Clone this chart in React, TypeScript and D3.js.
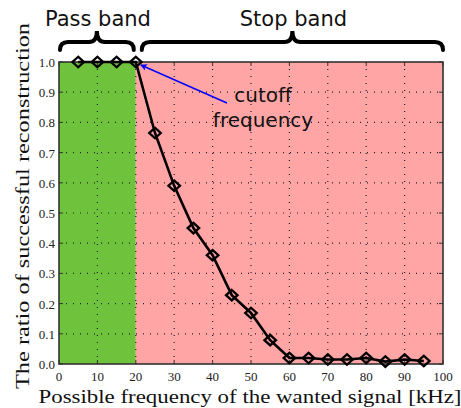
import React, { useEffect, useRef } from "react"
import * as d3 from "d3"

const freqs = [5, 10, 15, 20, 25, 30, 35, 40, 45, 50, 55, 60, 65, 70, 75, 80, 85, 90, 95]
const ratios = [1.0, 1.0, 1.0, 1.0, 0.765, 0.59, 0.45, 0.36, 0.228, 0.169, 0.079, 0.02, 0.02, 0.015, 0.015, 0.02, 0.008, 0.015, 0.01]
const xTicks = [0, 10, 20, 30, 40, 50, 60, 70, 80, 90, 100]
const yTicks = [0, 0.1, 0.2, 0.3, 0.4, 0.5, 0.6, 0.7, 0.8, 0.9, 1.0]
const bands = [
    { name: "Pass band", from: 0, to: 20, color: "#6fc23b" },
    { name: "Stop band", from: 20, to: 100, color: "#ffa5a5" },
]
const cutoff = 20

const W = 461, H = 408
const margin = { left: 59, right: 18, top: 62, bottom: 44 }
const serif = "'Liberation Serif', 'DejaVu Serif', serif"
const sans = "'DejaVu Sans', sans-serif"

function bracePath(x1: number, x2: number, y: number) {
    // curly brace opening downward, tip pointing up
    const mid = (x1 + x2) / 2
    const r = 8
    const yf = y - 8, yt = y - 19
    return `M${x1},${y} Q${x1},${yf} ${x1 + r},${yf} L${mid - r},${yf} Q${mid},${yf} ${mid},${yt} ` +
        `Q${mid},${yf} ${mid + r},${yf} L${x2 - r},${yf} Q${x2},${yf} ${x2},${y}`
}

export default function App() {
    const gRef = useRef<SVGGElement>(null)

    useEffect(() => {
        if (!gRef.current) return
        const g = d3.select(gRef.current)
        g.selectAll("*").remove()

        const x = d3.scaleLinear().domain([0, 100]).range([margin.left, W - margin.right])
        const y = d3.scaleLinear().domain([0, 1]).range([H - margin.bottom, margin.top])
        const [x0, x1] = x.range()
        const [y0, y1] = y.range()

        // band backgrounds
        g.selectAll("rect.band")
            .data(bands)
            .join("rect")
            .attr("x", d => x(d.from))
            .attr("width", d => x(d.to) - x(d.from))
            .attr("y", y1)
            .attr("height", y0 - y1)
            .attr("fill", d => d.color)

        // dotted grid
        const grid = g.append("g").attr("stroke", "#222").attr("stroke-width", 1.2).attr("stroke-dasharray", "1,6")
        grid.selectAll("line.vx")
            .data(xTicks.slice(1, -1))
            .join("line")
            .attr("x1", d => x(d)).attr("x2", d => x(d))
            .attr("y1", y0).attr("y2", y1)
        grid.selectAll("line.hy")
            .data(yTicks.slice(1, -1))
            .join("line")
            .attr("class", "hy")
            .attr("x1", x0).attr("x2", x1)
            .attr("y1", d => y(d)).attr("y2", d => y(d))

        // inward ticks on all sides
        const ticks = g.append("g").attr("stroke", "#333").attr("stroke-width", 1)
        xTicks.forEach(t => {
            ticks.append("line").attr("x1", x(t)).attr("x2", x(t)).attr("y1", y0).attr("y2", y0 - 4)
            ticks.append("line").attr("x1", x(t)).attr("x2", x(t)).attr("y1", y1).attr("y2", y1 + 4)
        })
        yTicks.forEach(t => {
            ticks.append("line").attr("x1", x0).attr("x2", x0 + 4).attr("y1", y(t)).attr("y2", y(t))
            ticks.append("line").attr("x1", x1).attr("x2", x1 - 4).attr("y1", y(t)).attr("y2", y(t))
        })

        // frame
        g.append("rect")
            .attr("x", x0).attr("y", y1)
            .attr("width", x1 - x0).attr("height", y0 - y1)
            .attr("fill", "none").attr("stroke", "#333").attr("stroke-width", 1.6)

        // tick labels
        g.append("g")
            .style("font-family", serif).style("font-size", "13px").attr("fill", "#222")
            .attr("text-anchor", "middle")
            .selectAll("text")
            .data(xTicks)
            .join("text")
            .attr("x", d => x(d)).attr("y", y0 + 17)
            .text(d => d)
        g.append("g")
            .style("font-family", serif).style("font-size", "13px").attr("fill", "#222")
            .attr("text-anchor", "end")
            .selectAll("text")
            .data(yTicks)
            .join("text")
            .attr("x", x0 - 4).attr("y", d => y(d) + 5)
            .text(d => d3.format(".1f")(d))

        // axis titles
        g.append("text")
            .attr("x", (x0 + x1) / 2 - 1).attr("y", H - 5)
            .attr("text-anchor", "middle")
            .style("font-family", serif).style("font-size", "19px").attr("fill", "#111")
            .attr("textLength", 423).attr("lengthAdjust", "spacingAndGlyphs")
            .text("Possible frequency of the wanted signal [kHz]")
        g.append("text")
            .attr("transform", `translate(29, ${(y0 + y1) / 2 - 7}) rotate(-90)`)
            .attr("text-anchor", "middle")
            .style("font-family", serif).style("font-size", "19px").attr("fill", "#111")
            .attr("textLength", 366).attr("lengthAdjust", "spacingAndGlyphs")
            .text("The ratio of successful reconstruction")

        // data line
        const line = d3.line<number>().x((d, i) => x(freqs[i])).y(d => y(d))
        g.append("path")
            .datum(ratios)
            .attr("d", line)
            .attr("fill", "none").attr("stroke", "#000").attr("stroke-width", 2.6)

        const sym = d3.symbol().type(d3.symbolDiamond2).size(70)
        g.selectAll("path.mk")
            .data(ratios)
            .join("path")
            .attr("class", "mk")
            .attr("d", sym)
            .attr("transform", (d, i) => `translate(${x(freqs[i])},${y(d)}) scale(1.1,1)`)
            .attr("fill", "none").attr("stroke", "#000").attr("stroke-width", 2.2)

        // braces and band labels
        bands.forEach((b, i) => {
            const bx1 = x(b.from) + (i === 0 ? 1 : 6)
            const bx2 = x(b.to) - (i === 0 ? 2 : 0)
            g.append("path")
                .attr("d", bracePath(bx1, bx2, 50))
                .attr("fill", "none").attr("stroke", "#000").attr("stroke-width", 4)
                .attr("stroke-linecap", "round")
            g.append("text")
                .attr("x", (bx1 + bx2) / 2 + 1).attr("y", 26)
                .attr("text-anchor", "middle")
                .style("font-family", sans).style("font-size", "21px").attr("fill", "#111")
                .text(b.name)
        })

        // cutoff annotation
        const ax = x(cutoff), ay = y(1)
        g.append("defs").append("marker")
            .attr("id", "arrowhead").attr("viewBox", "0 0 10 10")
            .attr("refX", 9).attr("refY", 5)
            .attr("markerWidth", 9).attr("markerHeight", 7)
            .attr("markerUnits", "userSpaceOnUse")
            .attr("orient", "auto-start-reverse")
            .append("path").attr("d", "M0,0 L10,5 L0,10 L3,5 Z").attr("fill", "#0000ff")
        g.append("line")
            .attr("x1", 227).attr("y1", 103)
            .attr("x2", ax + 5).attr("y2", ay + 3)
            .attr("stroke", "#0000ff").attr("stroke-width", 1.4)
            .attr("marker-end", "url(#arrowhead)")
        const ann = g.append("text")
            .attr("text-anchor", "middle")
            .style("font-family", sans).style("font-size", "20px").attr("fill", "#111")
        ann.append("tspan").attr("x", 263).attr("y", 102).text("cutoff")
        ann.append("tspan").attr("x", 263).attr("y", 127).text("frequency")
    }, [])

    return (
        <svg width={W} height={H} style={{ position: "absolute", left: 0, top: 0, background: "#fff" }}>
            <g ref={gRef} />
        </svg>
    )
}
